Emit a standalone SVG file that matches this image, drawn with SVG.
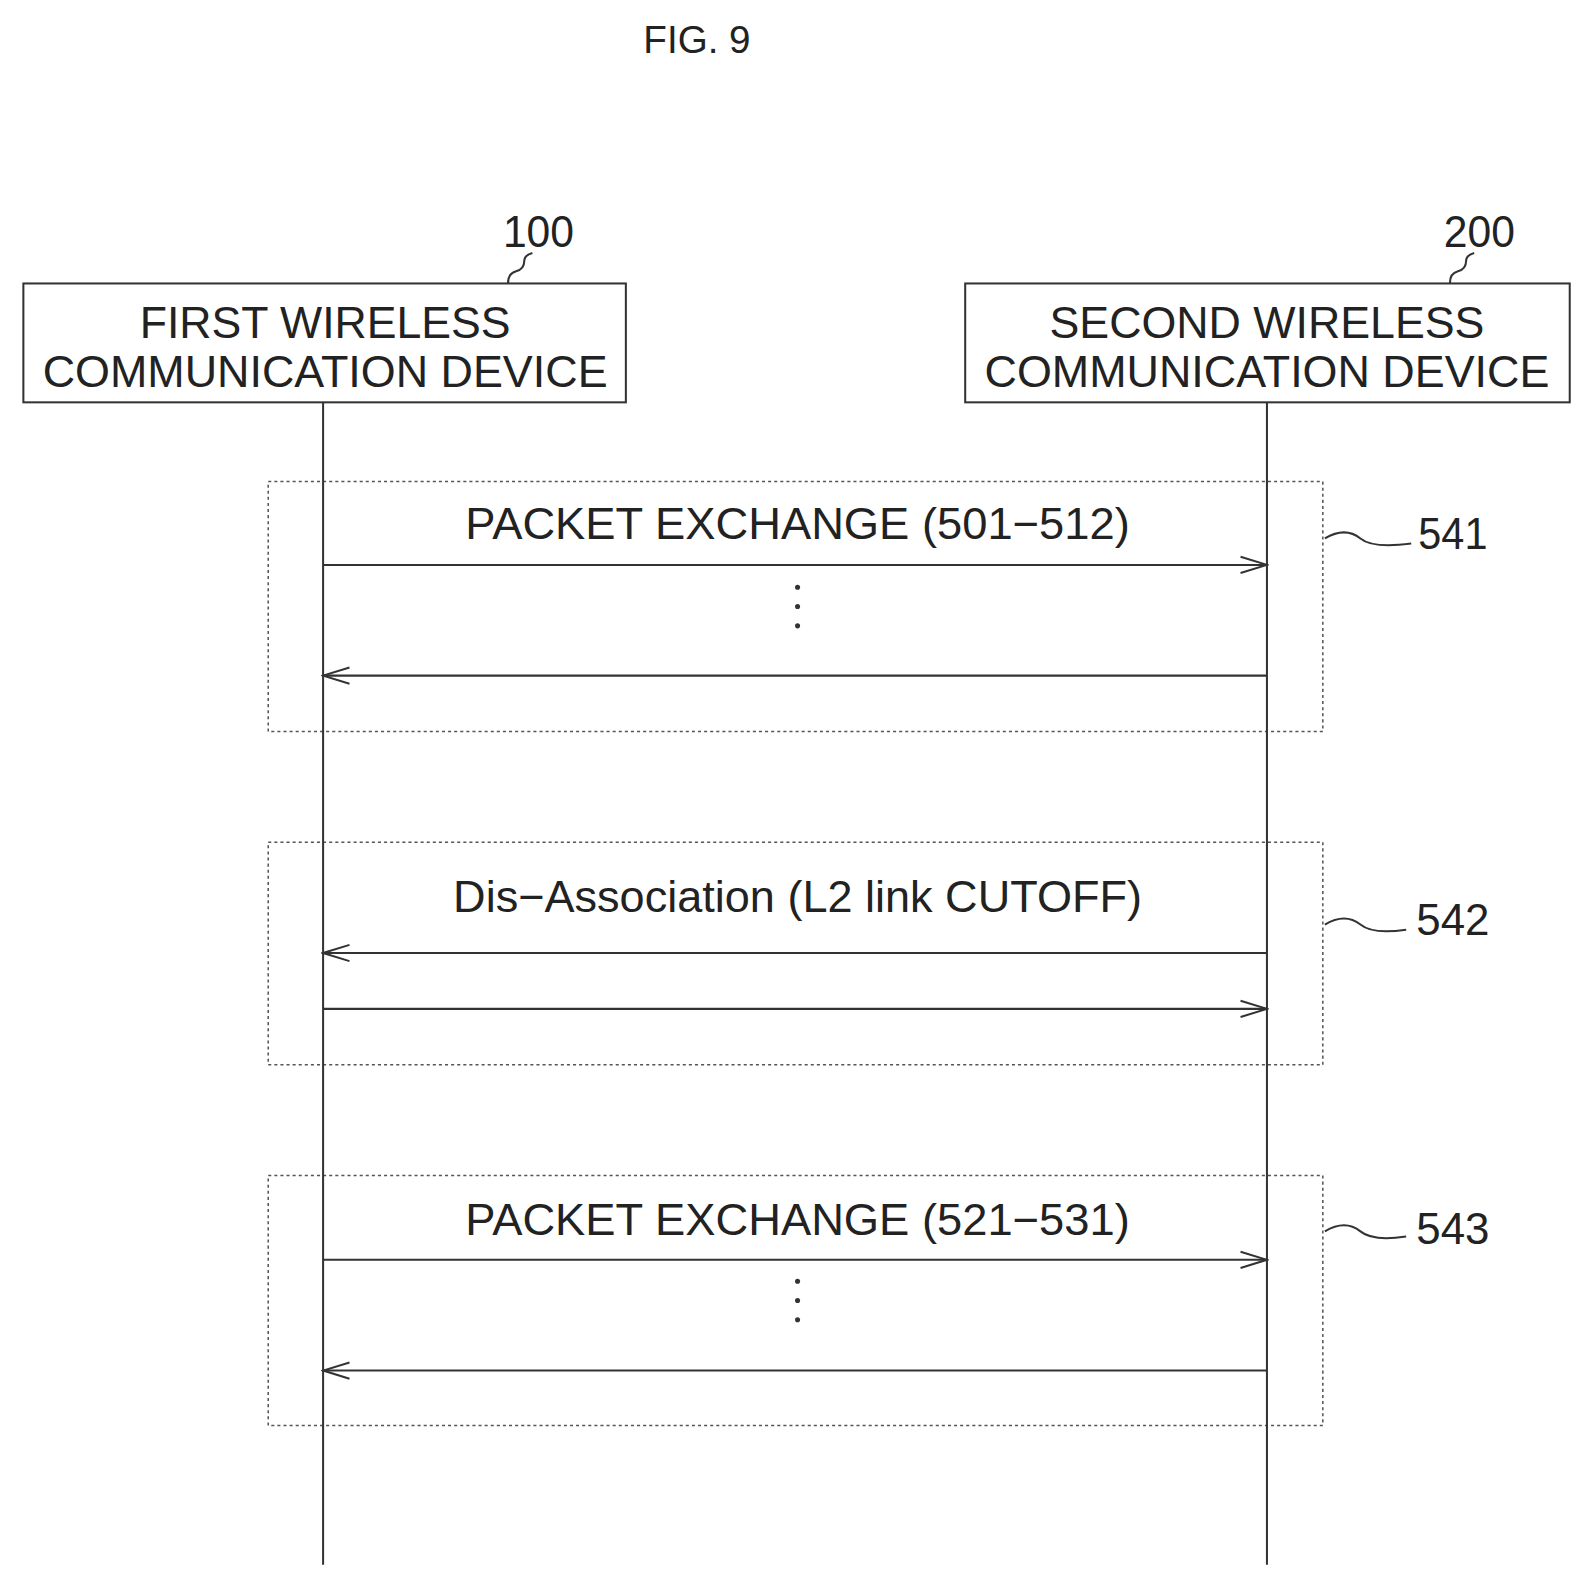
<svg xmlns="http://www.w3.org/2000/svg" width="1593" height="1588" viewBox="0 0 1593 1588">
<style>
text{font-family:"Liberation Sans",Arial,sans-serif;fill:#222}
.big{font-size:44px}
.box{fill:none;stroke:#333;stroke-width:2}
.dash{fill:none;stroke:#555;stroke-width:1.5;stroke-dasharray:3,3}
.ln{fill:none;stroke:#333;stroke-width:2}
.lead{fill:none;stroke:#333;stroke-width:2}
</style>
<defs><marker id="a" markerWidth="30" markerHeight="20" refX="28" refY="10" orient="auto" markerUnits="userSpaceOnUse"><path d="M2,2 L28,10 L2,18" fill="none" stroke="#333" stroke-width="2"/></marker></defs>
<rect width="1593" height="1588" fill="#fff"/>
<g transform="scale(1.016)">
<text x="686" y="52" font-size="38" text-anchor="middle">FIG. 9</text>
<g id="dev100">
<rect class="box" x="23" y="279" width="593" height="117"/>
<text class="big" x="320" y="333" text-anchor="middle" textLength="365" lengthAdjust="spacingAndGlyphs">FIRST WIRELESS</text>
<text class="big" x="320" y="381" text-anchor="middle" textLength="556" lengthAdjust="spacingAndGlyphs">COMMUNICATION DEVICE</text>
<text class="big" x="530" y="243" text-anchor="middle" textLength="70" lengthAdjust="spacingAndGlyphs">100</text>
<path class="lead" d="M500,279 q0,-10 8,-12 q8,-2 8,-10 q0,-6 8,-8"/>
</g>
<g id="dev200">
<rect class="box" x="950" y="279" width="595" height="117"/>
<text class="big" x="1247" y="333" text-anchor="middle" textLength="428" lengthAdjust="spacingAndGlyphs">SECOND WIRELESS</text>
<text class="big" x="1247" y="381" text-anchor="middle" textLength="556" lengthAdjust="spacingAndGlyphs">COMMUNICATION DEVICE</text>
<text class="big" x="1456" y="243" text-anchor="middle" textLength="70" lengthAdjust="spacingAndGlyphs">200</text>
<path class="lead" d="M1427,279 q0,-10 8,-12 q8,-2 8,-10 q0,-6 8,-8"/>
</g>
<g id="g541">
<rect class="dash" x="264" y="474" width="1038" height="246"/>
<text class="big" x="785" y="531" text-anchor="middle" textLength="654" lengthAdjust="spacingAndGlyphs">PACKET EXCHANGE (501−512)</text>
<circle cx="785" cy="578" r="2.5" fill="#333"/><circle cx="785" cy="597" r="2.5" fill="#333"/><circle cx="785" cy="616" r="2.5" fill="#333"/>
<path class="lead" d="M1304,530 q20,-12 35,0 q12,10 50,5"/>
<text class="big" x="1430" y="540" text-anchor="middle" textLength="68" lengthAdjust="spacingAndGlyphs">541</text>
</g>
<g id="g542">
<rect class="dash" x="264" y="829" width="1038" height="219"/>
<text class="big" x="785" y="898" text-anchor="middle" textLength="678" lengthAdjust="spacingAndGlyphs">Dis−Association (L2 link CUTOFF)</text>
<path class="lead" d="M1304,910 q20,-12 35,0 q12,10 45,5"/>
<text class="big" x="1430" y="920" text-anchor="middle" textLength="72" lengthAdjust="spacingAndGlyphs">542</text>
</g>
<g id="g543">
<rect class="dash" x="264" y="1157" width="1038" height="246"/>
<text class="big" x="785" y="1216" text-anchor="middle" textLength="654" lengthAdjust="spacingAndGlyphs">PACKET EXCHANGE (521−531)</text>
<circle cx="785" cy="1261" r="2.5" fill="#333"/><circle cx="785" cy="1280" r="2.5" fill="#333"/><circle cx="785" cy="1299" r="2.5" fill="#333"/>
<path class="lead" d="M1304,1212 q20,-12 35,0 q12,10 45,5"/>
<text class="big" x="1430" y="1224" text-anchor="middle" textLength="72" lengthAdjust="spacingAndGlyphs">543</text>
</g>
<g id="connectors">
<line class="ln" x1="318" y1="396" x2="318" y2="1540"/>
<line class="ln" x1="1247" y1="396" x2="1247" y2="1540"/>
<line class="ln" x1="318" y1="556" x2="1247" y2="556" marker-end="url(#a)"/>
<line class="ln" x1="1247" y1="665" x2="318" y2="665" marker-end="url(#a)"/>
<line class="ln" x1="1247" y1="938" x2="318" y2="938" marker-end="url(#a)"/>
<line class="ln" x1="318" y1="993" x2="1247" y2="993" marker-end="url(#a)"/>
<line class="ln" x1="318" y1="1240" x2="1247" y2="1240" marker-end="url(#a)"/>
<line class="ln" x1="1247" y1="1349" x2="318" y2="1349" marker-end="url(#a)"/>
</g>
</g>
</svg>
